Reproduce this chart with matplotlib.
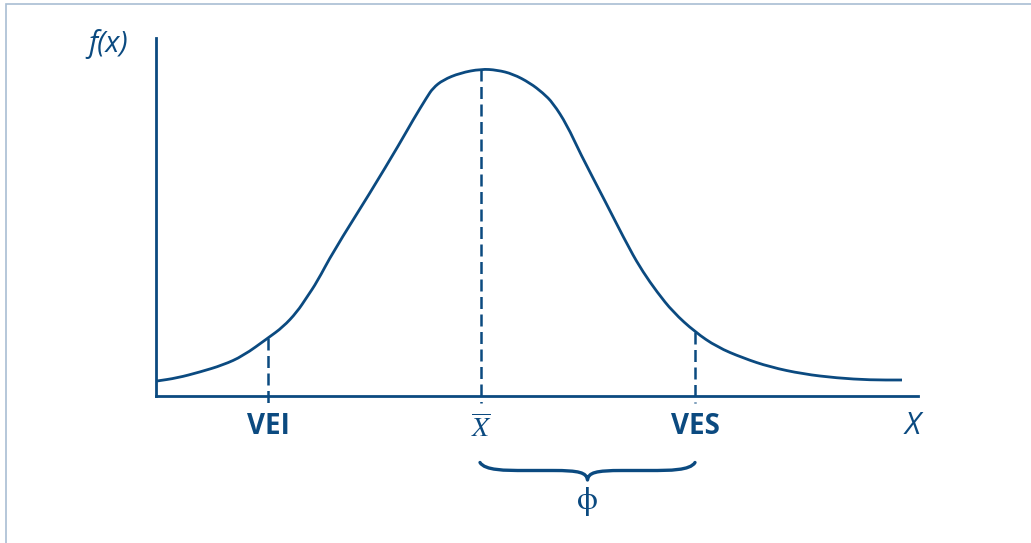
import numpy as np
import matplotlib
matplotlib.use('Agg')
import matplotlib.pyplot as plt
from matplotlib.path import Path
from matplotlib.patches import PathPatch, Rectangle

# curve (x right of the y axis, y above the x axis)
curve_x = [0.01, 0.21, 0.44, 0.67, 0.87, 1.12, 1.27, 1.41, 1.51, 1.61, 1.77, 2.14,
           2.44, 2.57, 2.71, 2.77, 2.87, 3.04, 3.25, 3.41, 3.57, 3.74, 3.87, 3.97,
           4.11, 4.24, 4.49, 4.74, 4.87, 5.01, 5.17, 5.39, 5.61, 5.87, 6.14, 6.47,
           6.81, 7.14, 7.46]
curve_y = [0.15, 0.18, 0.24, 0.31, 0.40, 0.58, 0.69, 0.84, 0.99, 1.14, 1.44, 2.03,
           2.53, 2.76, 2.99, 3.08, 3.16, 3.23, 3.27, 3.26, 3.22, 3.13, 3.03, 2.93,
           2.71, 2.43, 1.95, 1.46, 1.24, 1.04, 0.84, 0.64, 0.49, 0.38, 0.29, 0.22,
           0.18, 0.16, 0.16]

marks = [1.12, 3.25, 5.39]
mark_labels = ['VEI', r'$\overline{X}$', 'VES']

blue = '#0b4a80'
plt.rcParams['mathtext.fontset'] = 'stix'

W, H, dpi = 1031, 543, 100
fig = plt.figure(figsize=(W/dpi, H/dpi), dpi=dpi)
# axes box in pixels: x 156..918, y 38..396 -> 100 px per data unit
ax = fig.add_axes([156/W, 1 - 396/H, 762/W, 358/H])
ax.set_xlim(0, 7.62)
ax.set_ylim(0, 3.58)
for s in ['top', 'right']:
    ax.spines[s].set_visible(False)
for s in ['left', 'bottom']:
    ax.spines[s].set_color(blue)
    ax.spines[s].set_linewidth(2.0)
ax.set_xticks([])
ax.set_yticks([])
ax.patch.set_alpha(0)

# smooth line through the read points (quadratic pieces between midpoints)
pts = np.column_stack([curve_x, curve_y])
mids = (pts[:-1] + pts[1:]) / 2
verts = [pts[0], mids[0]]
codes = [Path.MOVETO, Path.LINETO]
for i in range(1, len(pts) - 1):
    verts += [pts[i], mids[i]]
    codes += [Path.CURVE3, Path.CURVE3]
verts.append(pts[-1])
codes.append(Path.LINETO)
ax.add_patch(PathPatch(Path(verts, codes), fill=False, edgecolor=blue, lw=2.0,
                       joinstyle='round', capstyle='butt'))

heights = np.interp(marks, curve_x, curve_y)
for m, h in zip(marks, heights):
    ax.plot([m, m], [h, -0.07], color=blue, lw=1.8, dashes=(4.8, 2.2),
            clip_on=False)

for m, lab in zip(marks, mark_labels):
    if lab.startswith('$'):
        ax.text(m, -0.41, lab, ha='center', va='baseline', color=blue,
                fontsize=20, clip_on=False)
    else:
        ax.text(m, -0.38, lab, ha='center', va='baseline', color=blue,
                fontsize=20, fontweight='bold', family='Open Sans', clip_on=False)

ax.text(-0.28, 3.44, 'f(x)', ha='right', va='baseline', color=blue, fontsize=21,
        style='italic', family='Open Sans', clip_on=False)
ax.text(7.57, -0.38, 'X', ha='center', va='baseline', color=blue, fontsize=22,
        style='italic', family='Open Sans', clip_on=False)

# brace from X-bar to VES
xl, xr = marks[1] - 0.01, marks[2]
xm = (xl + xr) / 2
yt, yh, yp = -0.665, -0.745, -0.84
verts = [(xl, yt), (xl + 0.05, yh), (xl + 0.25, yh), (xl + 0.45, yh),
         (xm - 0.35, yh),
         (xm - 0.08, yh), (xm - 0.01, yh - 0.02), (xm, yp),
         (xm + 0.01, yh - 0.02), (xm + 0.08, yh), (xm + 0.35, yh),
         (xr - 0.45, yh),
         (xr - 0.25, yh), (xr - 0.05, yh), (xr, yt)]
codes = [Path.MOVETO, Path.CURVE4, Path.CURVE4, Path.CURVE4,
         Path.LINETO,
         Path.CURVE4, Path.CURVE4, Path.CURVE4,
         Path.CURVE4, Path.CURVE4, Path.CURVE4,
         Path.LINETO,
         Path.CURVE4, Path.CURVE4, Path.CURVE4]
ax.add_patch(PathPatch(Path(verts, codes), fill=False, edgecolor=blue, lw=2.4,
                       capstyle='round', joinstyle='round', clip_on=False))
ax.text(xm, -1.05, '\u03d5', ha='center', va='center', color=blue, fontsize=24,
        family='STIXGeneral', clip_on=False)

# thin frame around the picture (only top and left visible)
fig.patches.append(Rectangle((5.5/W, -0.2), 1.2, 1.2 - 3.5/H, transform=fig.transFigure,
                             fill=False, edgecolor='#a9bed3', lw=1.2))

fig.savefig('out.png', dpi=dpi)
